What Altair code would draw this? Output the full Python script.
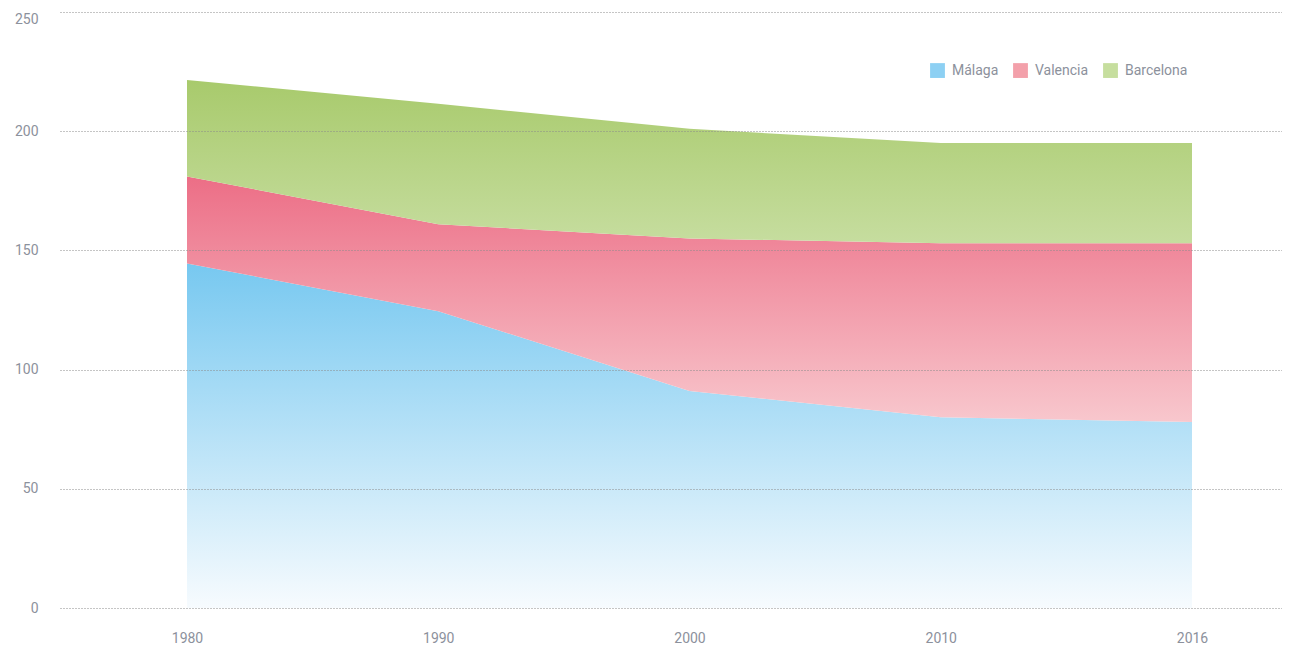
import altair as alt
import pandas as pd

years = ["1980", "1990", "2000", "2010", "2016"]
cities = ["Málaga", "Valencia", "Barcelona"]
malaga = [144.5, 124.5, 91, 80, 78]
valencia = [36.5, 36.5, 64, 73, 75]
barcelona = [40.5, 50.5, 46, 42, 42]
y_ticks = [0, 50, 100, 150, 200, 250]

rows = []
for ci, (c, vals) in enumerate(zip(cities, [malaga, valencia, barcelona])):
    for xi, (y, v) in enumerate(zip(years, vals)):
        rows.append({"year": y, "xi": xi, "city": c, "value": v, "order": ci})
df = pd.DataFrame(rows)

FONT = "Roboto"
GRAY = "#8c919c"

gradients = {
    "Málaga": ["#77c8f0", "#f7fbfe"],
    "Valencia": ["#ec6e86", "#f8c7cd"],
    "Barcelona": ["#a8ca6c", "#c6dd9f"],
}
legend_colors = ["#8dd0f3", "#f3a0aa", "#c6de9e"]

W = 1222
first_px, step_px = 127, 251.25
year_lookup = "[" + ",".join("'%s'" % y for y in years) + "][datum.value]"

xenc = alt.X("xi:Q", title=None,
             scale=alt.Scale(domain=[-first_px / step_px, (W - first_px) / step_px],
                             nice=False, zero=False),
             axis=alt.Axis(values=list(range(len(years))), labelExpr=year_lookup,
                           labelAngle=0, domain=False, ticks=False, labelPadding=23,
                           labelFont=FONT, labelFontSize=14, labelColor=GRAY, grid=False,
                           labelFlush=False))
yscale = alt.Scale(domain=[0, 250], nice=False)
yaxis = alt.Axis(values=y_ticks, domain=False, ticks=False, labelPadding=22,
                 labelFont=FONT, labelFontSize=14, labelColor=GRAY,
                 labelBaseline={"condition": {"test": "datum.value == 250", "value": "top"},
                                "value": "middle"},
                 grid=True, gridColor="#8a8a8a", gridDash=[1, 2], gridWidth=1, zindex=1)

base = alt.Chart(df).transform_stack(
    stack="value", groupby=["year"], as_=["y0", "y1"], sort=[alt.SortField("order")]
)

layers = []
for i, c in enumerate(cities):
    top, bot = gradients[c]
    layer = base.transform_filter(alt.datum.city == c).mark_area(
        fill=alt.LinearGradient(gradient="linear",
                                stops=[alt.GradientStop(color=top, offset=0),
                                       alt.GradientStop(color=bot, offset=1)],
                                x1=0, x2=0, y1=0, y2=1),
        interpolate="linear",
    ).encode(
        x=xenc,
        y=alt.Y("y1:Q", scale=yscale, title=None, axis=yaxis),
        y2="y0:Q",
    )
    layers.append(layer)

legend_layer = alt.Chart(df).mark_square(opacity=0).encode(
    x=xenc,
    y=alt.Y("value:Q", scale=yscale, title=None, axis=yaxis),
    color=alt.Color("city:N", sort=cities,
                    scale=alt.Scale(domain=cities, range=legend_colors),
                    legend=alt.Legend(title=None, orient="none", direction="horizontal",
                                      legendX=870, legendY=51, symbolType="square",
                                      symbolSize=220, symbolOpacity=1, symbolStrokeWidth=0,
                                      labelFont=FONT, labelFontSize=14, labelColor=GRAY,
                                      columnPadding=14, labelOffset=7)),
)

chart = alt.layer(*layers, legend_layer).properties(
    width=W, height=596,
    background="white",
    autosize=alt.AutoSizeParams(type="none"),
    padding={"left": 52, "top": 4, "right": 0, "bottom": 37},
).configure_view(strokeWidth=0, stroke=None)

chart.save("out.html", embed_options={"renderer": "svg", "actions": False})
